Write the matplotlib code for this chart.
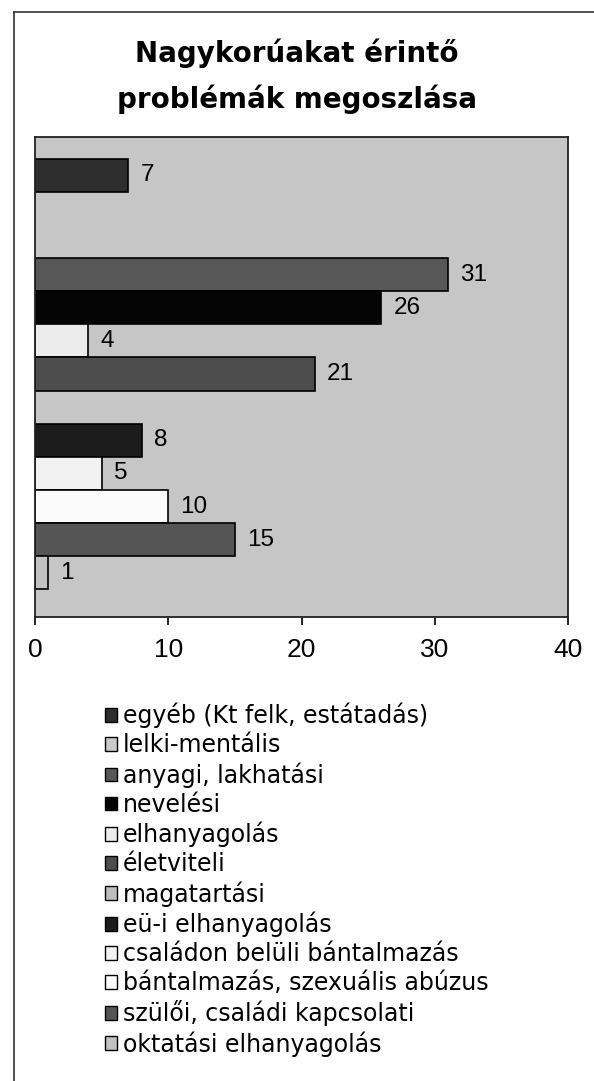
import matplotlib
matplotlib.use("Agg")
import matplotlib.pyplot as plt
from matplotlib.patches import Patch
from matplotlib.lines import Line2D

# one unnamed, empty series sits between "egyéb" and "lelki-mentális" in the reference
categories = [
    "egyéb (Kt felk, estátadás)",
    "",
    "lelki-mentális",
    "anyagi, lakhatási",
    "nevelési",
    "elhanyagolás",
    "életviteli",
    "magatartási",
    "eü-i elhanyagolás",
    "családon belüli bántalmazás",
    "bántalmazás, szexuális abúzus",
    "szülői, családi kapcsolati",
    "oktatási elhanyagolás",
]
values = [7, 0, 0, 31, 26, 4, 21, 0, 8, 5, 10, 15, 1]
colors = ["#2e2e2e", "#c6c6c6", "#c9c9c9", "#575757", "#050505", "#ececec", "#4d4d4d",
          "#bdbdbd", "#1c1c1c", "#f2f2f2", "#fbfbfb", "#555555", "#c2c2c2"]
xticks = [0, 10, 20, 30, 40]
title = "Nagykorúakat érintő\nproblémák megoszlása"

plt.rcParams['font.family'] = ['Liberation Sans', 'DejaVu Sans']

W, H = 594, 1081
fig = plt.figure(figsize=(W / 100, H / 100), dpi=100)

left, right, top, bottom = 35, 568, 137, 617
ax = fig.add_axes([left / W, 1 - bottom / H, (right - left) / W, (bottom - top) / H])
ax.set_facecolor("#c6c6c6")

n = len(categories)
pos = list(range(n))
for p, v, c in zip(pos, values, colors):
    if v > 0:
        ax.barh(p, v, height=1.0, color=c, edgecolor="black", linewidth=1.2, zorder=2)
        ax.text(v + 0.9, p, str(v), va="center", ha="left", fontsize=17.5, color="black")

ax.set_ylim(n - 1 + 1.33, -1.15)
ax.set_xlim(0, 40)
ax.set_xticks(xticks)
ax.set_xticklabels([str(t) for t in xticks], fontsize=19)
ax.tick_params(axis="x", direction="out", length=6, width=1.2, pad=9)
ax.set_yticks([])
for s in ["top", "right", "left", "bottom"]:
    ax.spines[s].set_linewidth(1.3)
    ax.spines[s].set_color("#222222")

fig.text(297 / W, 1 - 76 / H, title, ha="center", va="center", fontsize=20,
         fontweight="bold", family=["DejaVu Sans"], linespacing=1.72)

handles, labels = [], []
for name, c in zip(categories, colors):
    if name:
        handles.append(Patch(facecolor=c, edgecolor="black", linewidth=1.0))
        labels.append(name)
leg = fig.legend(handles, labels, loc="upper left",
                 bbox_to_anchor=(105 / W, 1 - 703 / H), frameon=False,
                 prop={"family": ["DejaVu Sans"], "size": 17},
                 handlelength=0.52, handleheight=0.52,
                 handletextpad=0.25, labelspacing=0.21, borderpad=0, borderaxespad=0)

fig.add_artist(Line2D([14 / W, 14 / W], [0, 1 - 12 / H], transform=fig.transFigure,
                      color="#333333", linewidth=1.2))
fig.add_artist(Line2D([14 / W, 1], [1 - 12 / H, 1 - 12 / H], transform=fig.transFigure,
                      color="#333333", linewidth=1.2))

fig.savefig("out.png", dpi=100)
